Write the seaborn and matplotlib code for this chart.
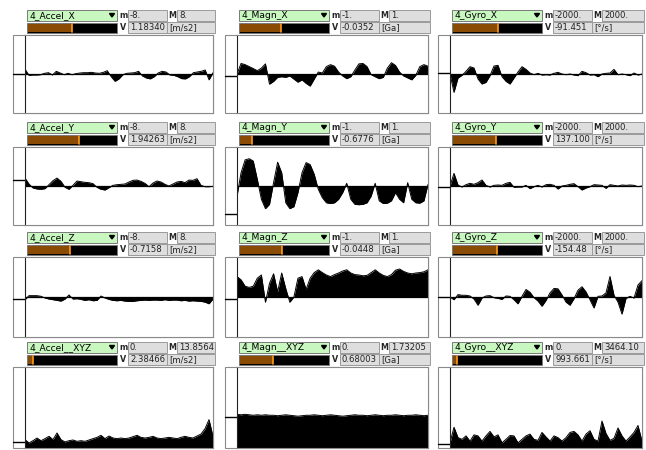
import numpy as np
import pandas as pd
import seaborn as sns
import matplotlib.pyplot as plt
from matplotlib.patches import Rectangle, Polygon

# panel texts, row by row (X, Y, Z, XYZ) and column by column (Accel, Magn, Gyro)
names = ["4_Accel_X", "4_Magn_X", "4_Gyro_X",
         "4_Accel_Y", "4_Magn_Y", "4_Gyro_Y",
         "4_Accel_Z", "4_Magn_Z", "4_Gyro_Z",
         "4_Accel__XYZ", "4_Magn__XYZ", "4_Gyro__XYZ"]
mins = ["-8.", "-1.", "-2000.", "-8.", "-1.", "-2000.",
        "-8.", "-1.", "-2000.", "0.", "0.", "0."]
maxs = ["8.", "1.", "2000.", "8.", "1.", "2000.",
        "8.", "1.", "2000.", "13.8564", "1.73205", "3464.10"]
current = ["1.18340", "-0.0352", "-91.451",
           "1.94263", "-0.6776", "137.100",
           "-0.7158", "-0.0448", "-154.48",
           "2.38466", "0.68003", "993.661"]
units = ["[m/s2]", "[Ga]", "[°/s]"] * 4
# fill level of the orange meter and of the small strip marker (0..1)
meter = [0.50, 0.47, 0.51, 0.58, 0.14, 0.49,
         0.48, 0.48, 0.50, 0.07, 0.38, 0.05]

accel_x = [1.0, -0.27, -0.2, -0.2, -0.14, 0.14, 0.27, -0.2, 0.55, 0.2, -0.14, 0.14,
           -0.14, 0.07, 0.2, 0.27, 0.27, 0.34, 0.2, 0.14, 0.34, 0.68, -0.55, -1.5,
           -1.0, -0.14, 0.14, 0.2, 0.27, 0.55, -0.41, -0.82, -1.0, -0.55, 0.2, 0.55,
           0.41, -0.2, -0.27, -0.55, -0.95, -1.0, -0.55, 0.27, 0.41, 0.55, 0.82, -1.2, 0.27]
magn_x = [0, 0.27, 0.24, 0.19, 0.14, 0.085, 0.15, 0.26, -0.26, -0.19, -0.085, -0.07,
          -0.085, -0.05, -0.13, -0.21, -0.15, -0.24, -0.31, -0.13, 0.05, 0.026, 0.19, 0.24,
          0.2, 0.05, -0.05, -0.12, -0.07, 0.1, 0.26, 0.27, 0.19, -0.017, -0.07, -0.12,
          -0.085, 0.15, 0.29, 0.22, 0.05, -0.05, -0.1, -0.15, -0.034, 0.19, 0.24, 0.2]
gyro_x = [0, -940, -205, -68, 137, 376, 308, -256, -513, -428, -86, 410, 445, -137,
          -376, -513, -205, 103, 376, 239, 51, -34, 34, -51, -34, -51, 34, 86, 0, -34,
          0, -51, -86, 137, 68, -51, -34, -137, 0, 34, 51, 239, -34, 0, -34, -86, 51, -51, 0]
accel_y = [1.63, 0.41, -0.41, -0.61, -0.68, -0.54, 0.27, 1.09, 1.63, 0.95, -0.27, -0.68,
           0.14, 1.02, 0.88, 0.75, 0.68, 0.48, -0.27, -0.68, -0.82, -0.34, 0.14, 0.27,
           0.34, 0.41, 0.82, 1.16, 1.22, 0.95, 0.54, -0.14, 0.61, 1.02, 0.82, 0.34,
           0, 0.41, 0.82, 0.95, 0.68, 1.22, 1.16, 1.5, 0.14, -0.14, -0.14, -0.07]
magn_y = [-0.26, 0.34, 0.67, 0.70, 0.64, 0.17, -0.34, -0.58, -0.47, 0.085, 0.61, 0.34,
          -0.43, -0.58, -0.53, -0.17, 0.34, 0.6, 0.55, 0.3, -0.085, -0.3, -0.43, -0.45,
          -0.43, -0.34, -0.17, 0.07, -0.34, -0.47, -0.48, -0.47, -0.43, -0.26, 0.07, -0.38,
          -0.45, -0.44, -0.38, -0.17, -0.34, -0.43, 0.085, -0.34, -0.43, -0.44, -0.38, 0.04]
gyro_y = [0, 650, 51, -51, 68, 137, 86, 171, 308, 34, -51, 34, 51, 34, 137, 188, -68,
          -51, -51, 34, -137, -34, 34, -51, 68, 86, 34, -154, 0, 34, 86, 120, -34, -205,
          -103, -34, 68, 51, 34, -120, 68, 34, 0, 51, 34, 51, 34, -34, 0]
accel_z = [-0.54, 0.27, 0.27, 0.27, 0.14, -0.2, -0.41, -0.54, -0.68, -0.82, -0.41, 0.41,
           -0.41, -0.34, -0.48, -0.68, -0.54, -0.75, -0.68, 0.2, -0.2, -0.48, -0.68, -0.75,
           -0.68, -0.82, -0.88, -0.88, -0.75, -0.68, -0.61, -0.68, -0.61, -0.61, -0.68, -0.54,
           -0.68, -0.61, -0.61, -0.75, -0.68, -0.82, -0.75, -0.82, -0.88, -1.02, -1.36, -0.41]
magn_z = [0.51, 0.43, 0.27, 0.24, 0.27, 0.47, 0.55, -0.13, 0.34, 0.58, 0.13, 0.6,
          0.21, -0.13, 0, 0.47, 0.51, 0.19, 0.47, 0.61, 0.68, 0.61, 0.55, 0.51,
          0.56, 0.6, 0.65, 0.68, 0.6, 0.56, 0.55, 0.53, 0.54, 0.61, 0.68, 0.6,
          0.54, 0.51, 0.56, 0.67, 0.7, 0.64, 0.6, 0.58, 0.6, 0.61, 0.63, 0.68]
gyro_z = [0, -137, 120, 86, 86, 51, -103, -410, -51, 51, 68, -34, -68, -120, 51, 34,
          -137, -342, 34, 376, 239, -34, -205, -462, -171, 205, 428, 410, 103, -256, -410,
          -86, 342, 513, 256, -137, -547, 34, 51, 205, 1026, 86, -256, -855, -68, 34, -51, 599, 821]
accel_xyz = [1.43, 0.86, 1.25, 1.71, 1.25, 1.6, 2.0, 1.43, 2.57, 1.43, 1.03, 1.25,
             1.37, 1.14, 1.25, 1.14, 1.37, 1.6, 1.82, 2.17, 1.6, 2.05, 1.71, 1.6,
             1.71, 1.6, 1.71, 1.94, 2.17, 1.82, 1.71, 1.82, 2.0, 1.71, 1.6, 1.71,
             1.82, 1.71, 1.6, 1.82, 2.0, 1.82, 1.71, 2.05, 2.39, 3.3, 4.85, 2.0]
magn_xyz = [0.72, 0.71, 0.72, 0.71, 0.70, 0.71, 0.70, 0.71, 0.70, 0.70, 0.69, 0.70,
            0.71, 0.70, 0.69, 0.68, 0.69, 0.70, 0.70, 0.71, 0.70, 0.69, 0.70, 0.71,
            0.70, 0.69, 0.68, 0.69, 0.70, 0.71, 0.70, 0.70, 0.69, 0.70, 0.71, 0.70,
            0.69, 0.70, 0.70, 0.71, 0.70, 0.69, 0.70, 0.70, 0.71, 0.70, 0.69, 0.70]
gyro_xyz = [222, 888, 444, 370, 518, 296, 562, 518, 296, 518, 710, 474, 562, 222, 370,
            533, 518, 222, 370, 518, 592, 370, 326, 666, 474, 296, 518, 444, 296, 444,
            666, 710, 562, 296, 592, 740, 370, 296, 1154, 622, 326, 414, 858, 518, 296,
            474, 666, 962, 296]

signals = [accel_x, magn_x, gyro_x, accel_y, magn_y, gyro_y,
           accel_z, magn_z, gyro_z, accel_xyz, magn_xyz, gyro_xyz]

W, H = 646, 450
col_left = [13, 225, 438]
col_right = [213, 428, 642]
row_top = [10, 122, 232, 342]
plot_bottom = [113, 225, 337, 448]

sns.set_theme(style="white")
plt.rcParams['font.family'] = ['DejaVu Sans']

fig = plt.figure(figsize=(6.46, 4.5), dpi=100)
fig.patch.set_facecolor("white")
bg = fig.add_axes([0, 0, 1, 1])
bg.set_xlim(0, W)
bg.set_ylim(H, 0)
bg.axis("off")


def box(x0, y0, x1, y1, face, edge="#9a9a9a", lw=0.7):
    bg.add_patch(Rectangle((x0, y0), x1 - x0, y1 - y0, facecolor=face,
                           edgecolor=edge, lw=lw))


for i, sig in enumerate(signals):
    r, c = divmod(i, 3)
    L, R = col_left[c], col_right[c]
    T = row_top[r]
    pt, pb = T + 25, plot_bottom[r]

    # name menu
    box(L + 14, T, L + 104, T + 11, "#c8f7c0", edge="#7a7a7a")
    bg.text(L + 16.5, T + 6, names[i], fontsize=6.6, va="center", ha="left", color="black")
    bg.add_patch(Polygon([[L + 96.5, T + 3.5], [L + 101.5, T + 3.5], [L + 99, T + 7]],
                         closed=True, color="black"))

    # meter
    bx0, bx1 = L + 14, L + 104
    box(bx0, T + 13, bx1, T + 23, "black", edge="#7a7a7a")
    fx = bx0 + meter[i] * (bx1 - bx0)
    bg.add_patch(Rectangle((bx0 + 1, T + 14), fx - bx0 - 1, 8, facecolor="#8a4b05", lw=0))
    bg.plot([fx, fx], [T + 14, T + 22], color="#ff9a1a", lw=1.2)

    # m / M / V fields
    bg.text(L + 110.5, T + 6, "m", fontsize=5.8, fontweight="bold", ha="center", va="center")
    bg.text(L + 110.5, T + 18, "V", fontsize=5.8, fontweight="bold", ha="center", va="center")
    box(L + 115, T, L + 154, T + 11, "#dedede")
    box(L + 115, T + 12, L + 154, T + 23, "#dedede")
    box(L + 154, T + 12, R + 2, T + 23, "#dedede")
    box(L + 164, T, R + 2, T + 11, "#dedede")
    bg.text(L + 159, T + 6, "M", fontsize=5.8, fontweight="bold", ha="center", va="center")
    bg.text(L + 117, T + 6, mins[i], fontsize=6.1, ha="left", va="center", color="#222")
    bg.text(L + 166, T + 6, maxs[i], fontsize=6.1, ha="left", va="center", color="#222")
    bg.text(L + 117, T + 18, current[i], fontsize=6.1, ha="left", va="center", color="#222")
    bg.text(L + 156, T + 18, units[i], fontsize=6.1, ha="left", va="center", color="#222")

    # plot frame with side strip
    box(L, pt, R, pb, "white", edge="#8a8a8a", lw=0.8)
    ys = pb - meter[i] * (pb - pt)
    bg.plot([L, L + 12], [ys, ys], color="black", lw=1.0)

    ax = fig.add_axes([(L + 12) / W, 1 - pb / H, (R - L - 12) / W, (pb - pt) / H])
    ax.set_facecolor("white")
    df = pd.DataFrame({"t": np.arange(len(sig)), "v": sig})
    ax.fill_between(df["t"], 0, df["v"], color="black", lw=0)
    sns.lineplot(data=df, x="t", y="v", ax=ax, color="black", lw=0.7)
    ax.axhline(0, color="black", lw=0.9)
    ax.set_xlim(0, len(sig) - 1)
    ax.set_ylim(float(mins[i]), float(maxs[i]))
    ax.set(xlabel="", ylabel="", xticks=[], yticks=[])
    for side, sp in ax.spines.items():
        sp.set_visible(True)
        sp.set_linewidth(0.8)
        sp.set_color("#222" if side == "left" else "#8a8a8a")

fig.savefig("out.png", dpi=100, facecolor="white")
